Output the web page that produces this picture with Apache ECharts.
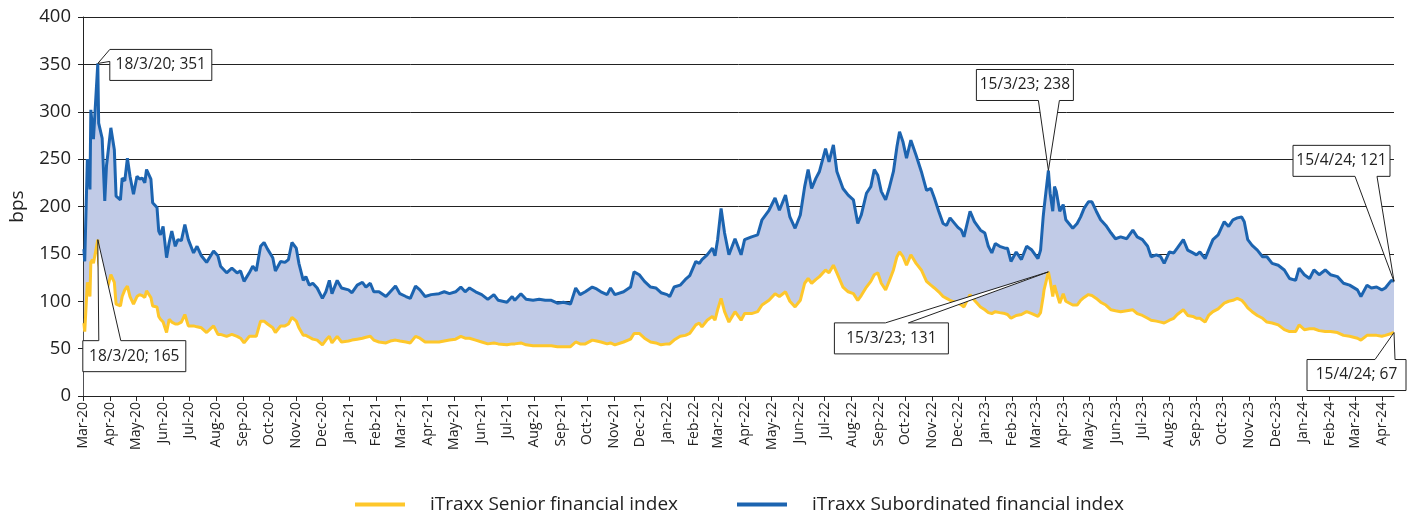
<!DOCTYPE html>
<html>
<head>
<meta charset="utf-8">
<title>iTraxx financial indices</title>
<script src="https://cdn.jsdelivr.net/npm/echarts@6/dist/echarts.min.js"></script>
<style>
  html, body { margin: 0; padding: 0; background: #fff; }
  #chart { width: 1409px; height: 518px; }
</style>
</head>
<body>
<div id="chart"></div>
<script>
const dates = [
  '2020-03-02','2020-03-03','2020-03-06','2020-03-09','2020-03-10','2020-03-12','2020-03-13','2020-03-18','2020-03-19','2020-03-23',
  '2020-03-26','2020-03-28','2020-04-02','2020-04-06','2020-04-08','2020-04-13','2020-04-15','2020-04-18','2020-04-21','2020-04-24',
  '2020-04-28','2020-05-02','2020-05-05','2020-05-08','2020-05-11','2020-05-13','2020-05-18','2020-05-20','2020-05-25','2020-05-27',
  '2020-05-29','2020-06-01','2020-06-05','2020-06-08','2020-06-11','2020-06-15','2020-06-18','2020-06-22','2020-06-26','2020-06-30',
  '2020-07-06','2020-07-10','2020-07-15','2020-07-21','2020-07-29','2020-08-03','2020-08-06','2020-08-13','2020-08-19','2020-08-25',
  '2020-08-29','2020-09-02','2020-09-08','2020-09-12','2020-09-16','2020-09-21','2020-09-25','2020-09-29','2020-10-05','2020-10-08',
  '2020-10-14','2020-10-19','2020-10-23','2020-10-27','2020-11-01','2020-11-04','2020-11-09','2020-11-12','2020-11-16','2020-11-20',
  '2020-11-25','2020-12-01','2020-12-05','2020-12-09','2020-12-12','2020-12-18','2020-12-23','2020-12-31',
  '2021-01-04','2021-01-10','2021-01-16','2021-01-20','2021-01-25','2021-01-29','2021-02-04','2021-02-12','2021-02-17','2021-02-23',
  '2021-02-28','2021-03-07','2021-03-12','2021-03-18','2021-03-23','2021-03-29','2021-04-05','2021-04-14','2021-04-20','2021-04-26',
  '2021-05-03','2021-05-09','2021-05-14','2021-05-19','2021-05-26','2021-06-02','2021-06-09','2021-06-16','2021-06-21','2021-07-01',
  '2021-07-07','2021-07-10','2021-07-17','2021-07-23','2021-07-31','2021-08-07','2021-08-14','2021-08-21','2021-08-28','2021-09-04',
  '2021-09-12','2021-09-18','2021-09-23','2021-09-29','2021-10-07','2021-10-12','2021-10-17','2021-10-24','2021-10-28','2021-11-02',
  '2021-11-12','2021-11-20','2021-11-24','2021-11-30','2021-12-06','2021-12-13','2021-12-19','2021-12-25',
  '2022-01-01','2022-01-04','2022-01-09','2022-01-16','2022-01-22','2022-01-27','2022-02-03','2022-02-07','2022-02-10','2022-02-16',
  '2022-02-22','2022-02-25','2022-02-28','2022-03-04','2022-03-08','2022-03-13','2022-03-20','2022-03-27','2022-03-31','2022-04-08',
  '2022-04-15','2022-04-20','2022-04-28','2022-05-05','2022-05-10','2022-05-17','2022-05-22','2022-05-28','2022-06-03','2022-06-08',
  '2022-06-12','2022-06-16','2022-06-21','2022-06-25','2022-07-02','2022-07-06','2022-07-11','2022-07-15','2022-07-22','2022-07-28',
  '2022-08-03','2022-08-08','2022-08-12','2022-08-18','2022-08-23','2022-08-27','2022-08-31','2022-09-04','2022-09-09','2022-09-13',
  '2022-09-18','2022-09-22','2022-09-25','2022-09-29','2022-10-03','2022-10-08','2022-10-14','2022-10-20','2022-10-26','2022-10-31',
  '2022-11-04','2022-11-09','2022-11-14','2022-11-18','2022-11-22','2022-12-01','2022-12-05','2022-12-08','2022-12-15','2022-12-20',
  '2022-12-27',
  '2023-01-01','2023-01-05','2023-01-09','2023-01-13','2023-01-18','2023-01-24','2023-01-27','2023-01-31','2023-02-06','2023-02-12',
  '2023-02-18','2023-02-24','2023-03-03','2023-03-06','2023-03-09','2023-03-10','2023-03-15','2023-03-17','2023-03-20','2023-03-22',
  '2023-03-24','2023-03-28','2023-04-01','2023-04-04','2023-04-12','2023-04-17','2023-04-21','2023-04-25','2023-04-30','2023-05-04',
  '2023-05-09','2023-05-14','2023-05-20','2023-05-26','2023-05-31','2023-06-06','2023-06-13','2023-06-20','2023-06-25','2023-07-01',
  '2023-07-07','2023-07-11','2023-07-17','2023-07-22','2023-07-26','2023-08-01','2023-08-06','2023-08-10','2023-08-17','2023-08-22',
  '2023-08-28','2023-09-01','2023-09-05','2023-09-11','2023-09-15','2023-09-20','2023-09-26','2023-10-03','2023-10-08','2023-10-13',
  '2023-10-18','2023-10-23','2023-10-26','2023-10-30','2023-11-04','2023-11-10','2023-11-16','2023-11-21','2023-11-27','2023-12-04',
  '2023-12-11','2023-12-17','2023-12-24','2023-12-28',
  '2024-01-03','2024-01-09','2024-01-14','2024-01-20','2024-01-27','2024-02-02','2024-02-10','2024-02-17','2024-02-24','2024-03-04',
  '2024-03-08','2024-03-15','2024-03-20','2024-03-26','2024-04-01','2024-04-05','2024-04-12','2024-04-15'
];

// iTraxx Subordinated financial index, bps
const subordinated = [
  155,142,250,218,302,304,271,351,288,272, 206,243,283,260,211,207,230,227,251,232,
  213,232,229,230,225,239,229,204,199,174, 170,179,146,162,174,158,165,164,181,165,
  151,158,148,141,153,148,137,130,135,130, 132,121,130,137,132,158,162,155,146,132,
  142,141,144,162,156,140,122,126,117,119, 114,103,110,122,108,122,114,112,
  109,117,120,115,119,110,110,105,110,116, 108,105,103,116,112,105,107,108,110,108,
  110,115,110,114,110,107,102,107,101,99,  105,101,108,102,101,102,101,101,98,99,
  97,114,107,110,115,113,110,107,114,107,  110,115,131,128,121,115,114,109,
  107,105,115,117,123,127,142,140,144,149, 156,148,165,198,172,149,166,149,165,168,
  170,186,196,209,196,212,189,177,191,221, 239,219,230,237,261,247,265,237,219,212,
  207,182,191,214,221,239,233,216,207,219, 237,263,279,268,251,270,254,237,217,219,
  209,195,182,180,188,178,175,168,195,184, 175,
  172,158,151,161,158,156,156,142,152,144, 158,154,145,154,189,198,238,214,195,221,
  216,195,202,186,177,182,189,198,205,205, 195,186,180,172,166,168,166,175,168,165,
  158,147,149,147,140,152,151,156,165,154, 151,149,152,145,154,165,170,184,179,186,
  188,189,184,165,159,154,147,147,140,138, 133,124,122,135,
  128,124,133,128,133,128,126,119,117,112, 105,117,114,115,112,114,122,121
];

// iTraxx Senior financial index, bps
const senior = [
  77,68,120,105,141,144,140,165,141,120, 98,110,128,120,97,95,105,112,116,105,
  97,105,107,106,104,111,104,95,94,84,    81,78,67,81,78,76,76,78,86,74,
  74,73,72,67,74,65,65,63,65,63,          61,56,63,63,63,79,79,76,72,67,
  74,74,76,83,79,72,64,64,62,60,          59,54,59,63,56,63,57,58,
  59,60,61,62,63,59,57,56,58,59,          58,57,56,63,61,57,57,57,58,59,
  60,63,61,61,59,57,55,56,55,54,          55,55,56,54,53,53,53,53,52,52,
  52,57,55,55,59,58,57,55,56,54,          57,60,66,66,61,57,56,54,
  55,55,59,63,64,66,75,77,73,80,          84,80,91,103,89,78,89,80,87,87,
  89,96,101,108,105,110,100,94,101,119,   124,119,123,126,133,130,138,130,115,110,
  108,101,106,115,121,128,130,119,112,121, 133,147,152,147,138,149,140,133,121,117,
  114,110,105,103,101,98,96,94,107,101,   94,
  91,88,87,89,88,87,86,82,85,86,          89,87,84,88,105,112,131,122,105,117,
  110,98,108,100,96,96,101,104,107,106,   103,99,96,91,90,89,90,91,87,85,
  82,80,79,78,77,80,82,86,91,85,          84,82,82,78,85,89,92,98,100,101,
  103,101,98,93,89,85,82,78,77,75,        70,68,68,75,
  70,71,71,69,68,68,67,64,63,61,          59,64,64,64,63,64,66,67
];

const seriesNames = ['iTraxx Subordinated financial index', 'iTraxx Senior financial index'];
const monthNames = ['Jan','Feb','Mar','Apr','May','Jun','Jul','Aug','Sep','Oct','Nov','Dec'];

// dates that carry a callout, and which series they label
const calloutPoints = [
  { series: 0, date: '2020-03-18' },
  { series: 1, date: '2020-03-18' },
  { series: 0, date: '2023-03-15' },
  { series: 1, date: '2023-03-15' },
  { series: 0, date: '2024-04-15' },
  { series: 1, date: '2024-04-15' }
];

// box placement relative to the labelled point (pixels)
const calloutLayout = [
  { dx: 12,   dy: -14, w: 102, h: 31, edge: 'left',   base: [-14, -2] },
  { dx: -15,  dy: 101, w: 103, h: 31, edge: 'top',    base: [1, 23] },
  { dx: -72,  dy: -101, w: 97, h: 31, edge: 'bottom', base: [-10, 11] },
  { dx: -214, dy: 51,  w: 114, h: 31, edge: 'top',    base: [-163, -140] },
  { dx: -101, dy: -136, w: 97, h: 31, edge: 'bottom', base: [-39, -17] },
  { dx: -87,  dy: 27,  w: 99, h: 31, edge: 'top',     base: [-19, 1] }
];

const FONT = '"Open Sans", "DejaVu Sans", sans-serif';
const INK = '#222';

const chart = echarts.init(document.getElementById('chart'));

const pairs = arr => dates.map((d, i) => [d, arr[i]]);

const option = {
  animation: false,
  textStyle: { fontFamily: FONT },
  grid: { left: 83, right: 15, top: 17, bottom: 122 },
  legend: {
    left: 348,
    top: 490,
    // tiny item height so the line-series legend dot disappears under the stroke
    itemWidth: 50,
    itemHeight: 3,
    itemGap: 57,
    data: [seriesNames[1], seriesNames[0]],
    lineStyle: { width: 4 },
    textStyle: { fontSize: 19, color: INK, padding: [0, 0, 0, 20] }
  },
  xAxis: {
    type: 'time',
    min: '2020-03-01',
    max: '2024-04-15',
    z: 5,
    minInterval: 30 * 24 * 3600 * 1000,
    maxInterval: 30 * 24 * 3600 * 1000,
    axisLine: { show: true, lineStyle: { color: INK, width: 1 } },
    axisTick: { show: true, length: 5, lineStyle: { color: INK } },
    splitLine: { show: false },
    axisLabel: {
      rotate: 90,
      fontSize: 14,
      color: INK,
      margin: 6,
      formatter: v => {
        const d = new Date(v);
        if (d.getDate() !== 1) return '';
        return monthNames[d.getMonth()] + '-' + String(d.getFullYear()).slice(2);
      }
    }
  },
  yAxis: {
    type: 'value',
    min: 0,
    max: 400,
    interval: 50,
    name: 'bps',
    nameLocation: 'middle',
    nameGap: 56,
    nameTextStyle: { fontSize: 19, color: INK },
    axisLine: { show: true, lineStyle: { color: INK, width: 1 } },
    axisTick: { show: true, length: 5, lineStyle: { color: INK } },
    axisLabel: { fontSize: 18.5, color: INK, margin: 12 },
    splitLine: { show: true, lineStyle: { color: INK, width: 1 } }
  },
  series: [
    {
      name: seriesNames[0],
      type: 'line',
      data: pairs(subordinated),
      symbol: 'none',
      color: '#1c64b0',
      lineStyle: { color: '#1c64b0', width: 3 },
      areaStyle: { color: '#c1cbe7', opacity: 1 }
    },
    {
      name: seriesNames[1],
      type: 'line',
      data: pairs(senior),
      symbol: 'none',
      color: '#fec72b',
      lineStyle: { color: '#fec72b', width: 3 },
      areaStyle: { color: '#ffffff', opacity: 1 }
    }
  ]
};

chart.setOption(option);

function fmtDate(s) {
  const [y, m, d] = s.split('-');
  return Number(d) + '/' + Number(m) + '/' + y.slice(2);
}

function buildCallouts() {
  const els = [];
  calloutPoints.forEach((c, i) => {
    const vals = c.series === 0 ? subordinated : senior;
    const v = vals[dates.indexOf(c.date)];
    const p = chart.convertToPixel({ seriesIndex: c.series }, [c.date, v]);
    const L = calloutLayout[i];
    const x0 = p[0] + L.dx, y0 = p[1] + L.dy, x1 = x0 + L.w, y1 = y0 + L.h;
    const [a, b] = L.base;
    let pts;
    if (L.edge === 'top') {
      pts = [[x0, y0], [p[0] + a, y0], p, [p[0] + b, y0], [x1, y0], [x1, y1], [x0, y1]];
    } else if (L.edge === 'bottom') {
      pts = [[x0, y0], [x1, y0], [x1, y1], [p[0] + b, y1], p, [p[0] + a, y1], [x0, y1]];
    } else {
      pts = [[x0, y0], [x1, y0], [x1, y1], [x0, y1], [x0, p[1] + b], p, [x0, p[1] + a]];
    }
    els.push({
      type: 'polygon',
      z: 100,
      shape: { points: pts },
      style: { fill: '#fff', stroke: INK, lineWidth: 1 }
    });
    els.push({
      type: 'text',
      z: 101,
      x: (x0 + x1) / 2,
      y: (y0 + y1) / 2,
      style: {
        text: fmtDate(c.date) + '; ' + v,
        fill: INK,
        font: '15.5px ' + FONT,
        align: 'center',
        verticalAlign: 'middle'
      }
    });
  });
  return els;
}

chart.setOption({ graphic: buildCallouts() });
</script>
</body>
</html>
